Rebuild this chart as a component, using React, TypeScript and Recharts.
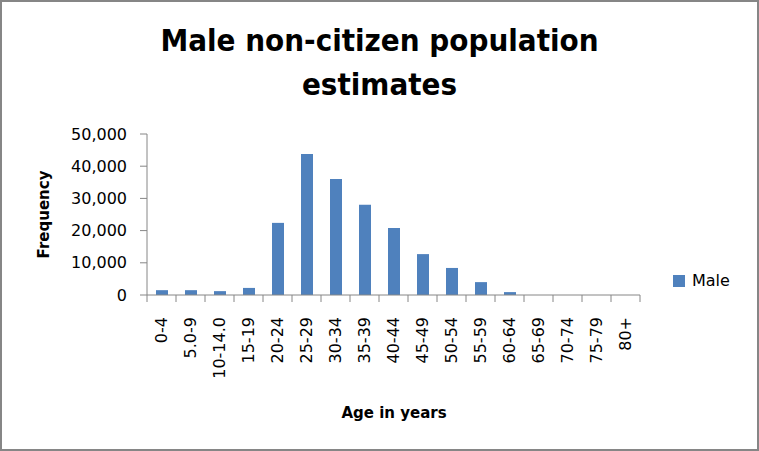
import React from 'react'
import { BarChart, Bar, XAxis, YAxis, Label } from 'recharts'

const ageGroups = [
  '0-4', '5.0-9', '10-14.0', '15-19', '20-24', '25-29', '30-34', '35-39', '40-44',
  '45-49', '50-54', '55-59', '60-64', '65-69', '70-74', '75-79', '80+',
]
const maleCounts = [
  1500, 1500, 1200, 2200, 22400, 43800, 36000, 28000, 20800,
  12700, 8400, 4000, 900, 0, 0, 0, 0,
]
const yTicks = [0, 10000, 20000, 30000, 40000, 50000]
const seriesName = 'Male'

const data = ageGroups.map((age, i) => ({ age, Male: maleCounts[i] }))

const W = 759
const H = 451
const PLOT_LEFT = 147
const PLOT_RIGHT = 640
const PLOT_TOP = 134
const PLOT_BOTTOM = 295
const HALF_BAND = (PLOT_RIGHT - PLOT_LEFT) / ageGroups.length / 2
const AXIS = '#868686'
const BLUE = '#4F81BD'
const FONT = "'DejaVu Sans', sans-serif"

function XTick(props: any) {
  const { x, payload, index } = props
  const last = index === ageGroups.length - 1
  return (
    <g>
      <line x1={x - HALF_BAND} x2={x - HALF_BAND} y1={PLOT_BOTTOM} y2={PLOT_BOTTOM + 7} stroke={AXIS} />
      {last && (
        <line x1={x + HALF_BAND} x2={x + HALF_BAND} y1={PLOT_BOTTOM} y2={PLOT_BOTTOM + 7} stroke={AXIS} />
      )}
      <text
        transform={`translate(${x},${PLOT_BOTTOM + 22}) rotate(-90)`}
        textAnchor="end"
        dy="0.35em"
        fontSize={16}
        fontFamily={FONT}
        fill="#000"
      >
        {payload.value}
      </text>
    </g>
  )
}

export default function App() {
  return (
    <div style={{ position: 'absolute', left: 0, top: 0, width: W, height: H, background: '#fff' }}>
      <div
        style={{
          position: 'absolute',
          top: 18,
          left: 0,
          width: W,
          textAlign: 'center',
          fontFamily: "'DejaVu Sans Condensed', 'DejaVu Sans', sans-serif",
          fontWeight: 'bold',
          fontSize: 31,
          lineHeight: '44px',
          color: '#000',
        }}
      >
        Male non-citizen population
        <br />
        estimates
      </div>
      <BarChart
        width={W}
        height={H}
        data={data}
        margin={{ top: PLOT_TOP, right: W - PLOT_RIGHT, bottom: 56, left: 67 }}
        barSize={12}
      >
        <XAxis
          dataKey="age"
          interval={0}
          height={100}
          tickLine={false}
          axisLine={{ stroke: AXIS }}
          tick={<XTick />}
        >
          <Label
            content={() => (
              <text x={394} y={418} textAnchor="middle" fontSize={15} fontWeight="bold" fontFamily={FONT} fill="#000">
                Age in years
              </text>
            )}
          />
        </XAxis>
        <YAxis
          width={80}
          domain={[0, 50000]}
          ticks={yTicks}
          interval={0}
          tickSize={7}
          tickMargin={13}
          tickLine={{ stroke: AXIS }}
          axisLine={{ stroke: AXIS }}
          tick={{ fill: '#000', fontSize: 16, fontFamily: FONT }}
          tickFormatter={(v: number) => v.toLocaleString('en-US')}
        >
          <Label
            content={() => (
              <text
                transform={`translate(44,${(PLOT_TOP + PLOT_BOTTOM) / 2}) rotate(-90)`}
                textAnchor="middle"
                dy="0.35em"
                fontSize={15}
                fontWeight="bold"
                fontFamily={FONT}
                fill="#000"
              >
                Frequency
              </text>
            )}
          />
        </YAxis>
        <Bar dataKey="Male" name={seriesName} fill={BLUE} isAnimationActive={false} />
      </BarChart>
      <div
        style={{
          position: 'absolute',
          left: 673,
          top: 271,
          display: 'flex',
          alignItems: 'center',
          fontFamily: FONT,
          fontSize: 16,
          color: '#000',
        }}
      >
        <span style={{ width: 12, height: 12, background: BLUE, marginRight: 7, display: 'inline-block' }} />
        {seriesName}
      </div>
      <div
        style={{
          position: 'absolute',
          left: 0,
          top: 0,
          width: W,
          height: H,
          boxSizing: 'border-box',
          border: `2px solid ${AXIS}`,
          pointerEvents: 'none',
        }}
      />
    </div>
  )
}
